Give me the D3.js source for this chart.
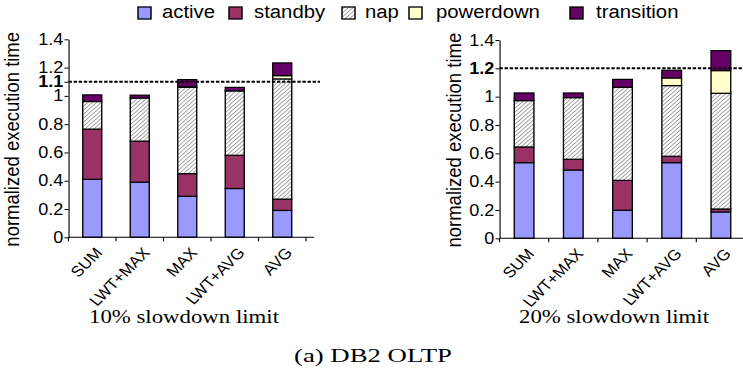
<!DOCTYPE html>
<html>
<head>
<meta charset="utf-8">
<title>DB2 OLTP</title>
<style>
  body { margin: 0; background: #fff; }
  svg text { fill: #000; }
</style>
</head>
<body>
<script src="https://d3js.org/d3.v7.min.js"></script>
<svg width="743" height="374" id="mainsvg"></svg>
<script>
// ---- data ----
const categories = ['SUM', 'LWT+MAX', 'MAX', 'LWT+AVG', 'AVG'];
const seriesNames = ['active', 'standby', 'nap', 'powerdown', 'transition'];
const yTicks = [0, 0.2, 0.4, 0.6, 0.8, 1, 1.2, 1.4];

// 10% slowdown limit (segment heights)
const active10     = [0.41, 0.39, 0.29, 0.345, 0.19];
const standby10    = [0.355, 0.29, 0.16, 0.235, 0.08];
const nap10        = [0.195, 0.305, 0.61, 0.455, 0.85];
const powerdown10  = [0, 0, 0.005, 0, 0.023];
const transition10 = [0.047, 0.02, 0.05, 0.025, 0.09];
const limit10 = 1.1;

// 20% slowdown limit
const active20     = [0.534, 0.482, 0.198, 0.534, 0.186];
const standby20    = [0.111, 0.076, 0.211, 0.045, 0.021];
const nap20        = [0.327, 0.435, 0.657, 0.499, 0.817];
const powerdown20  = [0, 0, 0, 0.054, 0.16];
const transition20 = [0.054, 0.033, 0.056, 0.054, 0.141];
const limit20 = 1.2;

const colors = {active: '#9999ff', standby: '#993366', nap: 'url(#hatch)', powerdown: '#ffffcc', transition: '#660066'};

// the whole picture is a bit wider than it is tall, stretch everything
const SX = 1.13;
const px = v => v / SX;

const svg = d3.select('#mainsvg');
const defs = svg.append('defs');
const pat = defs.append('pattern')
    .attr('id', 'hatch')
    .attr('patternUnits', 'userSpaceOnUse')
    .attr('width', 4).attr('height', 4);
pat.append('rect').attr('width', 4).attr('height', 4).attr('fill', '#fff');
pat.append('path').attr('d', 'M-1,1 l2,-2 M0,4 l4,-4 M3,5 l2,-2')
    .attr('stroke', '#777').attr('stroke-width', 0.8);

const root = svg.append('g').attr('transform', `scale(${SX},1)`);

function makeRows(a, s, n, p, t) {
    return categories.map((c, i) => ({cat: c, active: a[i], standby: s[i], nap: n[i], powerdown: p[i], transition: t[i]}));
}

function panel(rows, limit, o) {
    const g = root.append('g');
    const step = o.band;
    const x = d3.scaleBand().domain(categories)
        .range([px(o.x0), px(o.x0 + step * categories.length)])
        .paddingInner(0.6).paddingOuter(0.3);
    const y = d3.scaleLinear().domain([0, 1.4]).range([o.yZero, o.yTop]);

    const stack = d3.stack().keys(seriesNames)(rows);

    g.selectAll('g.series').data(stack).join('g')
        .attr('class', 'series')
        .attr('fill', d => colors[d.key])
        .selectAll('rect').data(d => d.filter(v => v[1] - v[0] > 0)).join('rect')
        .attr('x', d => x(d.data.cat))
        .attr('width', x.bandwidth())
        .attr('y', d => y(d[1]))
        .attr('height', d => y(d[0]) - y(d[1]))
        .attr('stroke', '#000').attr('stroke-width', 1.2);

    // y axis
    const ticks = yTicks.includes(limit) ? yTicks : yTicks.concat([limit]);
    const ya = g.append('g')
        .attr('transform', `translate(${px(o.x0)},0)`)
        .call(d3.axisLeft(y).tickValues(ticks).tickSize(px(4)).tickSizeOuter(0).tickPadding(1).tickFormat(d3.format('')));
    ya.selectAll('text')
        .attr('font-family', 'Liberation Sans, Arial, sans-serif')
        .attr('font-size', 16)
        .attr('fill', '#000')
        .attr('font-weight', d => d === limit ? 'bold' : null);
    ya.selectAll('line, path').attr('stroke', '#000');

    // x axis with boundary ticks
    const xa = g.append('g');
    xa.append('line')
        .attr('x1', px(o.x0)).attr('x2', px(o.axisEnd))
        .attr('y1', y(0)).attr('y2', y(0))
        .attr('stroke', '#000');
    xa.selectAll('line.tk').data(d3.range(categories.length + 1)).join('line')
        .attr('class', 'tk')
        .attr('x1', i => px(o.x0) + i * x.step()).attr('x2', i => px(o.x0) + i * x.step())
        .attr('y1', y(0)).attr('y2', y(0) + 4)
        .attr('stroke', '#000');
    xa.selectAll('text').data(categories).join('text')
        .attr('transform', c => `translate(${x(c) + x.bandwidth() / 2 + px(11)},${y(0) + 16}) rotate(-48.5)`)
        .attr('text-anchor', 'end')
        .attr('font-family', 'Liberation Sans, Arial, sans-serif')
        .attr('font-size', 15)
        .text(c => c);

    // limit line
    g.append('line')
        .attr('x1', px(o.x0)).attr('x2', px(o.dashEnd))
        .attr('y1', y(limit)).attr('y2', y(limit))
        .attr('stroke', '#000').attr('stroke-width', 2)
        .attr('stroke-dasharray', '3,1.5');

    // y label
    g.append('text')
        .attr('transform', `translate(${px(o.labelX)},${(y(0) + y(1.4)) / 2 + 1}) rotate(-90)`)
        .attr('text-anchor', 'middle')
        .attr('font-family', 'Liberation Sans, Arial, sans-serif')
        .attr('font-size', 18.5)
        .text('normalized execution time');

    // panel title
    g.append('text')
        .attr('x', px(o.titleX)).attr('y', 323)
        .attr('text-anchor', 'middle')
        .attr('font-family', 'Liberation Serif, Times New Roman, serif')
        .attr('font-size', 19.5)
        .attr('textLength', px(190)).attr('lengthAdjust', 'spacingAndGlyphs')
        .text(o.title);
}

panel(makeRows(active10, standby10, nap10, powerdown10, transition10), limit10,
    {x0: 68.5, band: 47.5, yZero: 237.3, yTop: 39.3, axisEnd: 314, dashEnd: 320, labelX: 18.5, titleX: 184, title: '10% slowdown limit'});
panel(makeRows(active20, standby20, nap20, powerdown20, transition20), limit20,
    {x0: 499.5, band: 49.2, yZero: 238.3, yTop: 40, axisEnd: 760, dashEnd: 760, labelX: 461, titleX: 614, title: '20% slowdown limit'});

// legend
const legendSwatchX = [138, 229, 342, 409, 570];
const legendTextX = [162, 254, 365, 436, 596];
const lg = root.append('g');
seriesNames.forEach((s, i) => {
    lg.append('rect')
        .attr('x', px(legendSwatchX[i])).attr('y', 7)
        .attr('width', px(13)).attr('height', 12)
        .attr('fill', colors[s]).attr('stroke', '#000').attr('stroke-width', 1.3);
    lg.append('text')
        .attr('x', px(legendTextX[i])).attr('y', 18.5)
        .attr('font-family', 'Liberation Sans, Arial, sans-serif')
        .attr('font-size', 18)
        .text(s);
});

// caption
root.append('text')
    .attr('x', px(373)).attr('y', 362)
    .attr('text-anchor', 'middle')
    .attr('font-family', 'Liberation Serif, Times New Roman, serif')
    .attr('font-size', 19.5)
    .attr('textLength', px(158)).attr('lengthAdjust', 'spacingAndGlyphs')
    .text('(a) DB2 OLTP');
</script>
</body>
</html>
